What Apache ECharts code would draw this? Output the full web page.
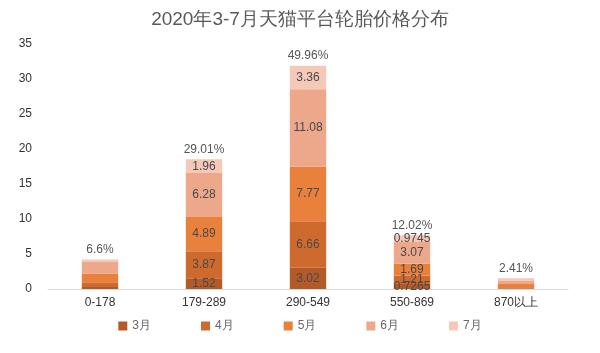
<!DOCTYPE html>
<html lang="zh">
<head>
    <meta charset="UTF-8">
    <title>天猫平台轮胎价格分布</title>
    <style>
        body, html { margin: 0; padding: 0; width: 100%; height: 100%; background: #fff; }
        #container { width: 600px; height: 353px; }
    </style>
    <script src="https://cdn.jsdelivr.net/npm/echarts@6/dist/echarts.min.js"></script>
</head>
<body>
<div id="container"></div>
<script type="text/javascript">
    var categories = ['0-178', '179-289', '290-549', '550-869', '870以上'];
    var months = ['3月', '4月', '5月', '6月', '7月'];
    var m3 = [0.28, 1.52, 3.02, 0.7265, 0.05];
    var m4 = [0.69, 3.87, 6.66, 1.21, 0.1];
    var m5 = [1.25, 4.89, 7.77, 1.69, 0.55];
    var m6 = [1.62, 6.28, 11.08, 3.07, 0.5];
    var m7 = [0.37, 1.96, 3.36, 0.9745, 0.34];
    var percents = ['6.6%', '29.01%', '49.96%', '12.02%', '2.41%'];
    var colors = ['#B35A28', '#CF6A2F', '#E9803C', '#EDA78A', '#F5C8B8'];

    var dom = document.getElementById('container');
    var myChart = echarts.init(dom);

    function withLabels(arr) {
        // 小柱子不显示数值
        return arr.map(function (v, i) {
            return {value: v, label: {show: i >= 1 && i <= 3}};
        });
    }

    var seriesList = [m3, m4, m5, m6, m7].map(function (arr, k) {
        return {
            name: months[k],
            type: 'bar',
            stack: 'total',
            barWidth: '35%',
            itemStyle: {color: colors[k]},
            label: {
                show: true,
                position: 'inside',
                color: '#4a4a4a',
                fontSize: 12,
                formatter: function (p) { return p.value; }
            },
            data: withLabels(arr)
        };
    });
    // 顶部百分比
    seriesList.push({
        name: 'pct',
        type: 'bar',
        stack: 'total',
        barWidth: '35%',
        data: categories.map(function () { return 0; }),
        label: {
            show: true,
            position: 'top',
            distance: 4,
            color: '#555',
            fontSize: 12,
            formatter: function (p) { return percents[p.dataIndex]; }
        }
    });

    var option = {
        animation: false,
        title: {
            text: '2020年3-7月天猫平台轮胎价格分布',
            left: 'center',
            top: 5,
            textStyle: {fontSize: 19, fontWeight: 'normal', color: '#595959'}
        },
        legend: {
            data: months,
            bottom: 16,
            left: 'center',
            itemGap: 50,
            itemWidth: 9,
            itemHeight: 9,
            icon: 'rect',
            textStyle: {fontSize: 12, color: '#666'}
        },
        grid: {left: 48, right: 32, top: 44, bottom: 64},
        xAxis: {
            type: 'category',
            data: categories,
            axisTick: {show: false},
            axisLine: {lineStyle: {color: '#d9d9d9'}},
            axisLabel: {color: '#333', fontSize: 12, margin: 8}
        },
        yAxis: {
            type: 'value',
            min: 0,
            max: 35,
            interval: 5,
            splitLine: {show: false},
            axisLine: {show: false},
            axisLabel: {color: '#333', fontSize: 12, margin: 16}
        },
        series: seriesList
    };
    myChart.setOption(option);
</script>
</body>
</html>
